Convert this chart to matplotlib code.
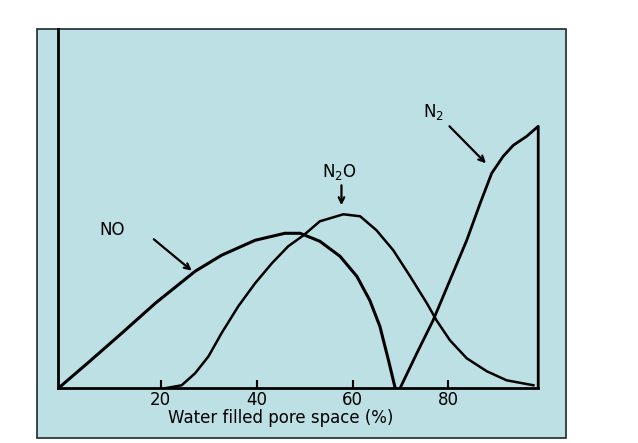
import matplotlib
matplotlib.use('Agg')
import matplotlib.pyplot as plt
from matplotlib.patches import Rectangle

plt.rcParams['font.family'] = ['DejaVu Sans']

# curves (y in arbitrary units, 0 = baseline)
no_x = [-1.3, 5.0, 11.9, 18.9, 27.2, 32.7, 39.7, 45.9, 49.1, 53.2, 57.4,
        60.9, 63.6, 65.7, 67.5, 68.9]
no_y = [0, 26, 55, 85, 117, 133, 148, 155, 155, 147, 132,
        112, 88, 62, 28, 0]

n2o_x = [20.9, 24.4, 27.2, 30.0, 32.7, 36.2, 39.7, 43.2, 46.6, 49.8, 53.2,
         58.1, 61.6, 65.0, 68.5, 72.0, 75.5, 77.5, 80.3, 83.8, 88.0, 92.1, 97.7]
n2o_y = [0, 3, 15, 32, 55, 82, 105, 125, 142, 153, 167,
         174, 172, 158, 138, 112, 85, 68, 48, 30, 17, 8, 3]

n2_x = [69.9, 73.4, 76.8, 80.3, 83.8, 86.6, 89.0, 91.4, 93.5, 96.3, 98.7, 98.7]
n2_y = [0, 35, 68, 108, 148, 185, 215, 232, 243, 252, 262, 0]

xticks = [20, 40, 60, 80]
xlabel = 'Water filled pore space (%)'

fig = plt.figure(figsize=(6.38, 4.43), dpi=100)
bg = '#bce0e4'
fig.patches.append(Rectangle((0.0585, 0.012), 0.8287, 0.922, transform=fig.transFigure,
                             facecolor=bg, edgecolor='#1c2a2c', linewidth=1.2, zorder=-10))

ax = fig.add_axes([0.0914, 0.1235, 0.762, 0.8104])
ax.set_facecolor('none')
ax.set_xlim(-1.3, 100)
ax.set_ylim(0, 359)

ax.plot(no_x, no_y, color='black', lw=2.2, solid_joinstyle='round')
ax.plot(n2o_x, n2o_y, color='black', lw=1.8, solid_joinstyle='round')
ax.plot(n2_x, n2_y, color='black', lw=2.0, solid_joinstyle='round')

for s in ['top', 'right']:
    ax.spines[s].set_visible(False)
ax.spines['left'].set_linewidth(2)
ax.spines['bottom'].set_linewidth(2)
ax.spines['bottom'].set_bounds(-1.3, 98.7)

ax.set_yticks([])
ax.set_xticks(xticks)
ax.set_xticklabels([str(t) for t in xticks])
ax.tick_params(axis='x', direction='in', length=6, width=1.5, pad=2, labelsize=12)

ax.text(45, -30, xlabel, ha='center', va='center', fontsize=12, clip_on=False)

arrow = dict(arrowstyle='->', color='black', lw=1.6, shrinkA=0, shrinkB=0)
ax.text(10.0, 158, 'NO', ha='center', va='center', fontsize=12)
ax.annotate('', xy=(26.5, 117.6), xytext=(18.6, 149), arrowprops=arrow)
ax.text(57.2, 216, r'N$_2$O', ha='center', va='center', fontsize=12)
ax.annotate('', xy=(57.7, 183), xytext=(57.7, 203), arrowprops=arrow)
ax.text(76.8, 276, r'N$_2$', ha='center', va='center', fontsize=12)
ax.annotate('', xy=(87.8, 225), xytext=(80.2, 262), arrowprops=arrow)

fig.savefig('out.png', dpi=100)
